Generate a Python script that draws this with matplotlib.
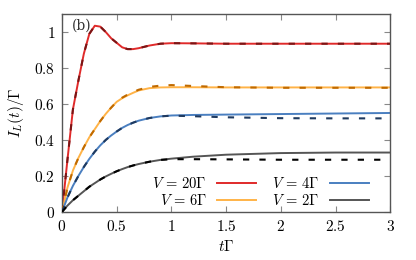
import matplotlib
matplotlib.use("Agg")
import matplotlib.pyplot as plt

plt.rcParams['mathtext.fontset'] = 'cm'
plt.rcParams['font.family'] = 'serif'
plt.rcParams['font.serif'] = ['DejaVu Serif']
plt.rcParams['lines.scale_dashes'] = False

t = [0, 0.05, 0.1, 0.15, 0.2, 0.25, 0.3, 0.35, 0.4, 0.45, 0.5, 0.55, 0.6, 0.65,
     0.7, 0.8, 0.9, 1.0, 1.2, 1.5, 2.0, 2.5, 3.0]

v20_exact = [0, 0.29, 0.57, 0.73, 0.88, 0.99, 1.035, 1.03, 1.0, 0.965, 0.94, 0.915,
             0.905, 0.905, 0.91, 0.925, 0.935, 0.938, 0.937, 0.935, 0.935, 0.935, 0.935]
v20_approx = v20_exact

v6_exact = [0, 0.135, 0.23, 0.30, 0.36, 0.415, 0.46, 0.505, 0.545, 0.58, 0.612, 0.632,
            0.648, 0.662, 0.675, 0.688, 0.692, 0.693, 0.693, 0.692, 0.692, 0.692, 0.692]
v6_approx = [0, 0.135, 0.23, 0.30, 0.36, 0.415, 0.46, 0.505, 0.545, 0.58, 0.612, 0.635,
             0.652, 0.666, 0.679, 0.695, 0.702, 0.705, 0.70, 0.693, 0.69, 0.69, 0.69]

v4_exact = [0, 0.08, 0.145, 0.2, 0.25, 0.295, 0.335, 0.37, 0.40, 0.425, 0.447, 0.467,
            0.483, 0.496, 0.507, 0.522, 0.531, 0.536, 0.539, 0.541, 0.544, 0.547, 0.55]
v4_approx = [0, 0.08, 0.145, 0.2, 0.25, 0.295, 0.335, 0.37, 0.40, 0.425, 0.447, 0.467,
             0.483, 0.496, 0.507, 0.522, 0.531, 0.535, 0.532, 0.526, 0.521, 0.52, 0.52]

v2_exact = [0, 0.035, 0.065, 0.09, 0.115, 0.14, 0.16, 0.18, 0.197, 0.212, 0.226, 0.238,
            0.249, 0.258, 0.266, 0.279, 0.289, 0.296, 0.307, 0.318, 0.327, 0.33, 0.33]
v2_approx = [0, 0.035, 0.065, 0.09, 0.115, 0.14, 0.16, 0.18, 0.197, 0.212, 0.226, 0.238,
             0.249, 0.258, 0.266, 0.279, 0.289, 0.293, 0.293, 0.292, 0.29, 0.29, 0.29]

labels = [r'$V\,=\,20\Gamma$', r'$V\,=\,6\Gamma$', r'$V\,=\,4\Gamma$', r'$V\,=\,2\Gamma$']
solid_colors = ['#e02a2a', '#ffb347', '#4a7fc0', '#555555']
dash_colors = ['#7a1515', '#c06a00', '#1f3a5f', '#000000']

xticks = [0, 0.5, 1, 1.5, 2, 2.5, 3]
xticklabels = ['0', '0.5', '1', '1.5', '2', '2.5', '3']
yticks = [0, 0.2, 0.4, 0.6, 0.8, 1.0]
yticklabels = ['0', '0.2', '0.4', '0.6', '0.8', '1']

fig = plt.figure(figsize=(4.16, 2.60), dpi=100)
ax = fig.add_axes([0.149, 0.185, 0.789, 0.761])

exact = [v20_exact, v6_exact, v4_exact, v2_exact]
approx = [v20_approx, v6_approx, v4_approx, v2_approx]
handles = []
for ye, lab, c in zip(exact, labels, solid_colors):
    h, = ax.plot(t, ye, color=c, lw=1.4, label=lab, zorder=2)
    handles.append(h)
for ya, c in zip(approx, dash_colors):
    ax.plot(t, ya, color=c, lw=1.5, linestyle=(0, (4.5, 7.3)), zorder=3)

ax.set_xlim(0, 3)
ax.set_ylim(0, 1.1)
ax.set_xticks(xticks)
ax.set_xticklabels(['$' + s + '$' for s in xticklabels], fontsize=11)
ax.set_yticks(yticks)
ax.set_yticklabels(['$' + s + '$' for s in yticklabels], fontsize=11)
ax.tick_params(direction='in', top=True, right=True, length=4, color='#888888', pad=5)
for s in ax.spines.values():
    s.set_color('#555555')
    s.set_linewidth(1.0)

ax.set_xlabel(r'$t\Gamma$', fontsize=11, labelpad=4)
ax.set_ylabel(r'$I_L(t)/\Gamma$', fontsize=11, labelpad=6)
ax.text(0.03, 0.975, '(b)', transform=ax.transAxes, fontsize=10, va='top', ha='left',
        family='DejaVu Serif', color='#333333')

leg = ax.legend(handles=handles, ncol=2, frameon=False, markerfirst=False,
                loc='lower right', bbox_to_anchor=(0.975, -0.045), fontsize=10.5,
                handlelength=2.7, columnspacing=1.1, handletextpad=0.7,
                labelspacing=0.12)

fig.savefig('out.png', dpi=100)
